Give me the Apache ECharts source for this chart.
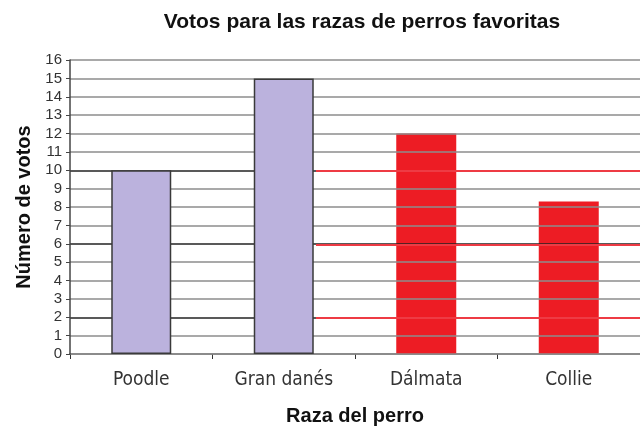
<!DOCTYPE html>
<html>
<head>
<meta charset="utf-8">
<script src="https://cdn.jsdelivr.net/npm/echarts@6/dist/echarts.min.js"></script>
<style>
  html, body { margin: 0; padding: 0; background: #fff; }
  #chart { width: 640px; height: 431px; }
</style>
</head>
<body>
<div id="chart"></div>
<script>
// data
const breeds = ['Poodle', 'Gran danés', 'Dálmata', 'Collie']
const lavenderVotes = [10, 15, null, null]
const redVotes = [null, null, 12, 8.3]
const yMin = 0
const yMax = 16
const yStep = 1
const darkLevels = [2, 6, 10]   // darker grid lines on the left part
const redLevels = [2, 6, 10]    // red grid lines on the right part

const font = '"Liberation Sans", Arial, sans-serif'
const narrow = '"Liberation Sans Narrow", "DejaVu Sans Condensed", "Liberation Sans", sans-serif'

// one colour per split line, counted from yMin
const levels = []
for (let v = yMin; v <= yMax; v += yStep) levels.push(v)
const greyColors = levels.map(v => darkLevels.includes(v) ? '#222' : '#8c8c8c')
const redColors = levels.map(v => redLevels.includes(v) ? '#ee3b44' : 'rgba(0,0,0,0)')

const chart = echarts.init(document.getElementById('chart'))
chart.setOption({
  animation: false,
  backgroundColor: '#fff',
  title: {
    text: 'Votos para las razas de perros favoritas',
    left: 357,
    top: 7,
    textAlign: 'center',
    textStyle: { fontFamily: font, fontSize: 21, fontWeight: 'bold', color: '#111' }
  },
  grid: [
    { left: 70, top: 60, width: 580, bottom: 76 },
    { left: 316, top: 60, right: 0, bottom: 76 }
  ],
  xAxis: [{
    type: 'category',
    gridIndex: 0,
    data: breeds,
    name: 'Raza del perro',
    nameLocation: 'middle',
    nameGap: 52,
    nameTextStyle: { fontFamily: font, fontSize: 20, fontWeight: 'bold', color: '#111' },
    axisLine: { lineStyle: { color: '#888', width: 2 } },
    axisTick: { show: true, length: 5, lineStyle: { color: '#333' } },
    axisLabel: { fontFamily: narrow, fontSize: 19, color: '#333', margin: 17 }
  }, {
    type: 'category',
    gridIndex: 1,
    data: breeds,
    show: false
  }],
  yAxis: [{
    type: 'value',
    gridIndex: 0,
    min: yMin,
    max: yMax,
    interval: yStep,
    z: 2,
    name: 'Número de votos',
    nameLocation: 'middle',
    nameRotate: 90,
    nameGap: 36,
    nameTextStyle: { fontFamily: font, fontSize: 20, fontWeight: 'bold', color: '#111' },
    axisLine: { show: true, lineStyle: { color: '#444', width: 1.5 } },
    axisTick: { show: true, length: 4, lineStyle: { color: '#444' } },
    axisLabel: { fontFamily: font, fontSize: 15, color: '#333', margin: 8 },
    splitLine: { show: true, lineStyle: { color: greyColors, width: 1.5 } }
  }, {
    type: 'value',
    gridIndex: 1,
    min: yMin,
    max: yMax,
    interval: yStep,
    z: 6,
    axisLine: { show: false },
    axisTick: { show: false },
    axisLabel: { show: false },
    splitLine: { show: true, lineStyle: { color: redColors, width: 2 } }
  }],
  series: [{
    name: 'lavanda',
    type: 'bar',
    xAxisIndex: 0,
    yAxisIndex: 0,
    data: lavenderVotes,
    barWidth: 60,
    z: 4,
    itemStyle: { color: '#bbb2dd', borderColor: '#3a3a3a', borderWidth: 1.5 }
  }, {
    name: 'rojo',
    type: 'bar',
    xAxisIndex: 0,
    yAxisIndex: 0,
    data: redVotes,
    barWidth: 60,
    barGap: '-100%',
    z: 1,
    itemStyle: { color: '#ed1c24' }
  }]
})
</script>
</body>
</html>
